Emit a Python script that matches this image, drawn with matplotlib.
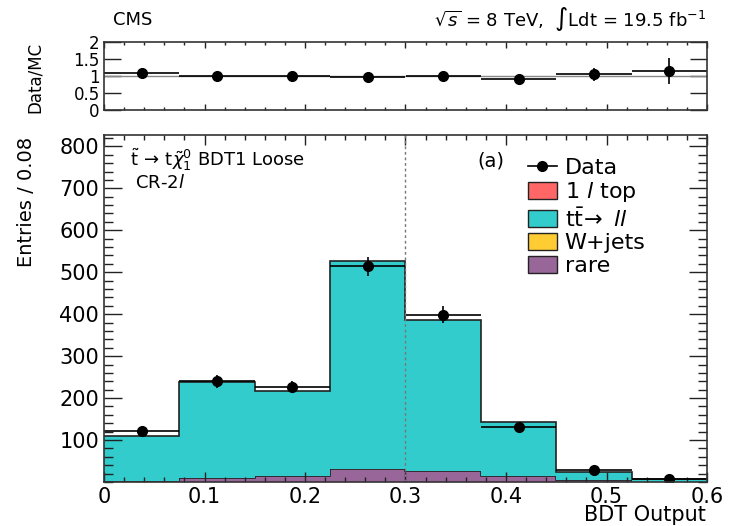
import numpy as np
import matplotlib
matplotlib.use('Agg')
import matplotlib.pyplot as plt
from matplotlib.lines import Line2D
from matplotlib.patches import Patch
from matplotlib.ticker import MultipleLocator, FixedLocator

plt.rcParams['font.family'] = ['DejaVu Sans']
plt.rcParams['mathtext.fontset'] = 'dejavusans'

# ---- data ----
bin_edges = [0.0, 0.075, 0.15, 0.225, 0.3, 0.375, 0.45, 0.525, 0.6]
data_counts = [121, 240, 226, 514, 399, 132, 28, 8]
data_errors = [11, 15.5, 15, 23, 20, 11.5, 5.3, 2.8]
rare = [2, 10, 15, 30, 26, 14, 4, 1]
wjets = [0, 0, 0, 0, 0, 0, 0, 0]
ttbar_ll = [108, 229, 203, 497, 360, 129, 21, 5]
onel_top = [0, 0, 0, 0, 0, 0, 0, 0]
ratio_vals = [1.10, 0.99, 1.01, 0.97, 1.01, 0.92, 1.05, 1.15]
ratio_errs = [0.10, 0.07, 0.07, 0.05, 0.05, 0.09, 0.20, 0.38]
x_tick_vals = [0.0, 0.1, 0.2, 0.3, 0.4, 0.5, 0.6]
x_tick_labels = ['0', '0.1', '0.2', '0.3', '0.4', '0.5', '0.6']
y_tick_vals = [100, 200, 300, 400, 500, 600, 700, 800]
r_tick_vals = [0, 0.5, 1, 1.5, 2]
r_tick_labels = ['0', '0.5', '1', '1.5', '2']

colors = {'rare': '#996699', 'wjets': '#FFCC33', 'tt': '#33CCCC', 'top1l': '#FF6666'}
edge_c = '#222222'

edges = np.array(bin_edges)
centers = 0.5 * (edges[:-1] + edges[1:])
halfw = 0.5 * (edges[1:] - edges[:-1])

fig = plt.figure(figsize=(7.32, 5.26), dpi=100)
ax = fig.add_axes([104/732, 44/526, 603/732, 347/526])
axr = fig.add_axes([104/732, 416/526, 603/732, 68/526])

# ---- stacked histogram ----
components = [(rare, colors['rare']), (wjets, colors['wjets']),
              (ttbar_ll, colors['tt']), (onel_top, colors['top1l'])]
bottom = np.zeros(len(centers))
for vals, col in components:
    top = bottom + np.array(vals, dtype=float)
    if np.any(top > bottom):
        ax.stairs(top, edges, baseline=bottom, fill=True, color=col, lw=0)
        ax.stairs(top, edges, baseline=None, color=edge_c, lw=1.2)
    bottom = top

ax.axvline(0.3, color='#777777', ls=(0, (2, 2)), lw=1.0)

ax.errorbar(centers, data_counts, yerr=data_errors, xerr=halfw, fmt='o',
            color='black', ms=7, elinewidth=1.2, capsize=0)

ax.set_xlim(0, 0.6)
ax.set_ylim(0, 827)
ax.xaxis.set_major_locator(FixedLocator(x_tick_vals))
ax.set_xticklabels(x_tick_labels)
ax.xaxis.set_minor_locator(MultipleLocator(0.02))
ax.yaxis.set_major_locator(FixedLocator(y_tick_vals))
ax.yaxis.set_minor_locator(MultipleLocator(20))
ax.tick_params(axis='both', which='both', direction='in', top=True, right=True,
               labelsize=15, colors='#222222', labelcolor='black')
ax.tick_params(axis='y', which='major', length=13, width=1)
ax.tick_params(axis='y', which='minor', length=6.5, width=1)
ax.tick_params(axis='x', which='major', length=7, width=1, pad=3.5)
ax.tick_params(axis='x', which='minor', length=3.6, width=1)
for s in ax.spines.values():
    s.set_linewidth(1.2)
    s.set_color('#333333')

# texts in the main panel
ax.text(0.043, 0.911, r'$\tilde{\mathrm{t}}\,\rightarrow\,\mathrm{t}\tilde{\chi}^{0}_{1}$ BDT1 Loose',
        transform=ax.transAxes, fontsize=13, ha='left', va='baseline')
ax.text(0.051, 0.847, r'CR-2$l$', transform=ax.transAxes, fontsize=13,
        ha='left', va='baseline')
ax.text(0.620, 0.908, '(a)', transform=ax.transAxes, fontsize=14,
        ha='left', va='baseline')

handles = [Line2D([], [], color='black', marker='o', ms=7, lw=1.2),
           Patch(facecolor=colors['top1l'], edgecolor=edge_c, lw=1),
           Patch(facecolor=colors['tt'], edgecolor=edge_c, lw=1),
           Patch(facecolor=colors['wjets'], edgecolor=edge_c, lw=1),
           Patch(facecolor=colors['rare'], edgecolor=edge_c, lw=1)]
labels = ['Data', r'1 $l$ top', r't$\bar{\mathrm{t}}\!\rightarrow$ $ll$', 'W+jets', 'rare']
ax.legend(handles, labels, loc='upper left', bbox_to_anchor=(0.703, 0.935),
          frameon=False, fontsize=16, handlelength=1.3, handleheight=0.8,
          handletextpad=0.35, labelspacing=0.12, borderpad=0, borderaxespad=0)

# ---- ratio panel ----
axr.axhline(1.0, color='#888888', lw=1.0)
axr.errorbar(centers, ratio_vals, yerr=ratio_errs, xerr=halfw, fmt='o',
             color='black', ms=7, elinewidth=1.2, capsize=0)
axr.set_xlim(0, 0.6)
axr.set_ylim(0, 2)
axr.xaxis.set_major_locator(FixedLocator(x_tick_vals))
axr.xaxis.set_minor_locator(MultipleLocator(0.02))
axr.yaxis.set_major_locator(FixedLocator(r_tick_vals))
axr.set_yticklabels(r_tick_labels)
axr.tick_params(axis='both', which='both', direction='in', top=True, right=True,
                labelsize=12, colors='#222222', labelcolor='black')
axr.tick_params(axis='x', labelbottom=False)
axr.tick_params(axis='y', which='major', length=12, width=1, pad=3)
axr.tick_params(axis='x', which='major', length=4, width=1)
axr.tick_params(axis='x', which='minor', length=2.5, width=1)
for s in axr.spines.values():
    s.set_linewidth(1.2)
    s.set_color('#333333')

# ---- figure texts ----
fig.text(113/732, 0.9525, 'CMS', fontsize=13, ha='left', va='baseline')
fig.text(706/732, 0.9506, r'$\sqrt{s}$ = 8 TeV,  $\int$Ldt = 19.5 fb$^{-1}$',
         fontsize=13, ha='right', va='baseline')
fig.text(26/732, 389/526, 'Entries / 0.08', fontsize=14, rotation=90,
         ha='center', va='top')
fig.text(35/732, 449/526, 'Data/MC', fontsize=12, rotation=90,
         ha='center', va='center')
fig.text(706/732, 5/526, 'BDT Output', fontsize=15, ha='right', va='baseline')

fig.savefig('out.png', dpi=100)
